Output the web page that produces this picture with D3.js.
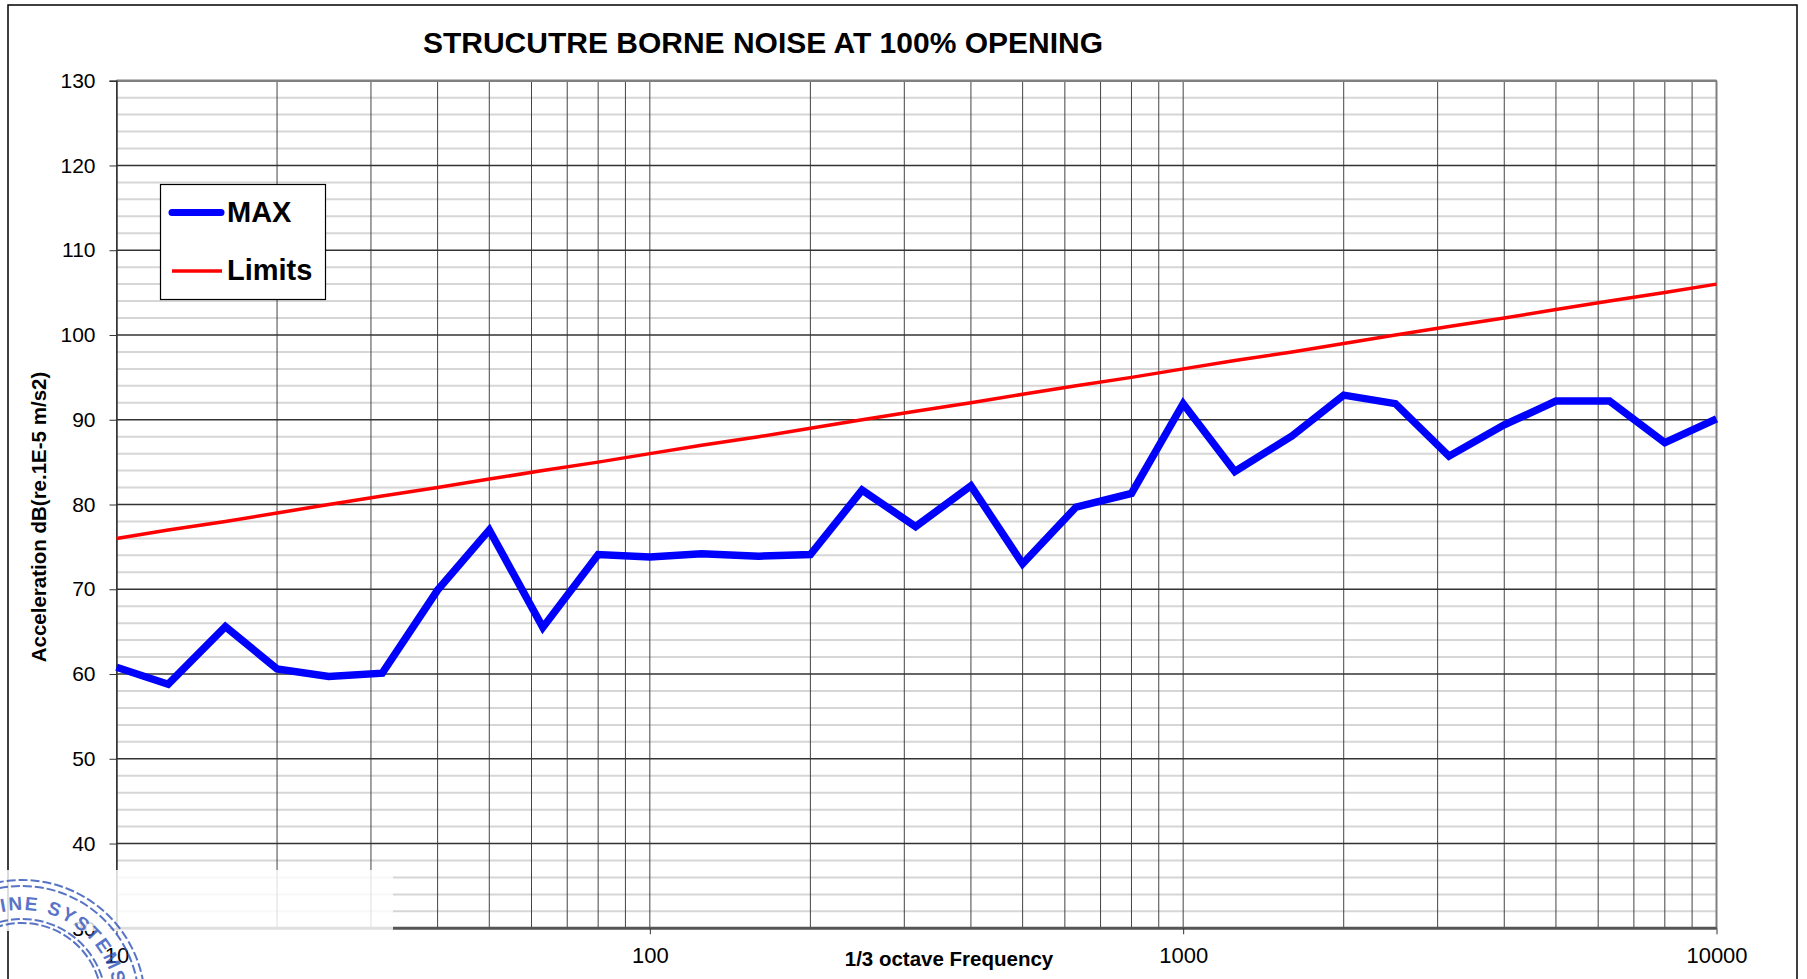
<!DOCTYPE html>
<html>
<head>
<meta charset="utf-8">
<script src="https://cdn.jsdelivr.net/npm/d3@7"></script>
<style>
body { margin:0; background:#fff; overflow:hidden; }
text { font-family: "Liberation Sans", Arial, sans-serif; }
</style>
</head>
<body>
<script>
// 1/3 octave band centre frequencies (Hz)
var freqs = [10,12.5,16,20,25,31.5,40,50,63,80,100,125,160,200,250,315,400,500,630,800,
             1000,1250,1600,2000,2500,3150,4000,5000,6300,8000,10000];
// MAX measured acceleration, dB
var maxValues = [60.8,58.8,65.6,60.6,59.7,60.1,69.9,77.0,65.5,74.1,73.8,74.2,73.9,74.1,81.7,77.4,
                 82.2,73.0,79.7,81.3,91.9,83.9,88.1,92.9,91.9,85.7,89.4,92.2,92.2,87.3,90.1];
// Limits, dB
var limitValues = [76,77,78,79,80,81,82,83,84,85,86,87,88,89,90,91,92,93,94,95,
                   96,97,98,99,100,101,102,103,104,105,106];
var yTicks = [30,40,50,60,70,80,90,100,110,120,130];
var xTickLabels = [10,100,1000,10000];
var seriesNames = ["MAX","Limits"];

var width = 1807;
var height = 979;
var plotLeft = 116.5, plotRight = 1716.5, plotTop = 80.7, plotBottom = 928.3;

var x = d3.scaleLog()
  .domain([10,10000])
  .range([plotLeft,plotRight]);
var y = d3.scaleLinear()
  .domain([30,130])
  .range([plotBottom,plotTop]);

var svg = d3.select("body")
  .append("svg")
  .attr("width",width)
  .attr("height",height);

// outer frame
svg.append("rect")
  .attr("x",8).attr("y",5)
  .attr("width",1789).attr("height",1000)
  .attr("fill","none")
  .attr("stroke","#000")
  .attr("stroke-width",1.5);

// title
svg.append("text")
  .attr("x",763)
  .attr("y",53)
  .attr("text-anchor","middle")
  .attr("font-size",30)
  .attr("font-weight","bold")
  .text("STRUCUTRE BORNE NOISE AT 100% OPENING");

var grid = svg.append("g");

// minor horizontal grid every 2 dB
var minorY = d3.range(32,130,2).filter(function(d){ return d%10!=0; });
grid.selectAll("line.minorY")
  .data(minorY)
  .enter()
  .append("line")
  .attr("x1",plotLeft).attr("x2",plotRight)
  .attr("y1",function(d){ return y(d); })
  .attr("y2",function(d){ return y(d); })
  .attr("stroke","#d6d6d6")
  .attr("stroke-width",2);

// vertical grid (log decades with 2..9)
grid.selectAll("line.vx")
  .data(x.ticks())
  .enter()
  .append("line")
  .attr("x1",function(d){ return x(d); })
  .attr("x2",function(d){ return x(d); })
  .attr("y1",plotTop).attr("y2",plotBottom)
  .attr("stroke","#444")
  .attr("stroke-width",1);

// major horizontal grid
grid.selectAll("line.majorY")
  .data(yTicks)
  .enter()
  .append("line")
  .attr("x1",plotLeft).attr("x2",plotRight)
  .attr("y1",function(d){ return y(d); })
  .attr("y2",function(d){ return y(d); })
  .attr("stroke","#333")
  .attr("stroke-width",1.5);

// plot frame
grid.append("line")
  .attr("x1",plotLeft).attr("x2",plotRight)
  .attr("y1",plotTop).attr("y2",plotTop)
  .attr("stroke","#808080").attr("stroke-width",2.5);
grid.append("line")
  .attr("x1",plotRight).attr("x2",plotRight)
  .attr("y1",plotTop).attr("y2",plotBottom)
  .attr("stroke","#808080").attr("stroke-width",2);
grid.append("line")
  .attr("x1",plotLeft).attr("x2",plotRight)
  .attr("y1",plotBottom).attr("y2",plotBottom)
  .attr("stroke","#555").attr("stroke-width",3);

// axes
var yAxisCall = d3.axisLeft(y)
  .tickValues(yTicks)
  .tickSize(7)
  .tickPadding(14);
var yAxis = svg.append("g")
  .attr("transform","translate("+plotLeft+",0)")
  .call(yAxisCall);
yAxis.select(".domain").attr("stroke","#333").attr("stroke-width",1.5);
yAxis.selectAll(".tick line").attr("stroke","#333");
yAxis.selectAll("text")
  .attr("font-size",21)
  .attr("font-family","Liberation Sans, Arial, sans-serif")
  .attr("fill","#000");

var xAxisCall = d3.axisBottom(x)
  .tickValues(xTickLabels)
  .tickFormat(d3.format("d"))
  .tickSize(6)
  .tickPadding(13);
var xAxis = svg.append("g")
  .attr("transform","translate(0,"+plotBottom+")")
  .call(xAxisCall);
xAxis.select(".domain").remove();
xAxis.selectAll(".tick line").attr("stroke","#333");
xAxis.selectAll("text")
  .attr("font-size",22)
  .attr("font-family","Liberation Sans, Arial, sans-serif")
  .attr("fill","#000");

// axis titles
svg.append("text")
  .attr("transform","translate(46,517) rotate(-90)")
  .attr("text-anchor","middle")
  .attr("font-size",20.5)
  .attr("font-weight","bold")
  .text("Acceleration dB(re.1E-5 m/s2)");
svg.append("text")
  .attr("x",949)
  .attr("y",966)
  .attr("text-anchor","middle")
  .attr("font-size",20.5)
  .attr("font-weight","bold")
  .text("1/3 octave Frequency");

// data lines
var line = d3.line()
  .x(function(d){ return x(d[0]); })
  .y(function(d){ return y(d[1]); });

svg.append("path")
  .datum(freqs.map(function(f,i){ return [f,limitValues[i]]; }))
  .attr("d",line)
  .attr("fill","none")
  .attr("stroke","#ff0000")
  .attr("stroke-width",3.5);

svg.append("path")
  .datum(freqs.map(function(f,i){ return [f,maxValues[i]]; }))
  .attr("d",line)
  .attr("fill","none")
  .attr("stroke","#0000ff")
  .attr("stroke-width",7.5)
  .attr("stroke-linejoin","miter");

// legend
var legend = svg.append("g");
legend.append("rect")
  .attr("x",160.5).attr("y",184.5)
  .attr("width",165).attr("height",115)
  .attr("fill","#fff")
  .attr("stroke","#000")
  .attr("stroke-width",1.2);
legend.append("line")
  .attr("x1",172).attr("x2",221)
  .attr("y1",212.5).attr("y2",212.5)
  .attr("stroke","#0000ff")
  .attr("stroke-width",7)
  .attr("stroke-linecap","round");
legend.append("line")
  .attr("x1",172).attr("x2",222)
  .attr("y1",271).attr("y2",271)
  .attr("stroke","#ff0000")
  .attr("stroke-width",3.5);
legend.selectAll("text.leg")
  .data(seriesNames)
  .enter()
  .append("text")
  .attr("x",227)
  .attr("y",function(d,i){ return 222+i*58; })
  .attr("font-size",29)
  .attr("font-weight","bold")
  .text(function(d){ return d; });

// washed-out corner and stamp
svg.append("rect")
  .attr("x",0).attr("y",870)
  .attr("width",393).attr("height",61)
  .attr("fill","#fff")
  .attr("opacity",0.82);

var stampColor = "#2f52b8";
var stamp = svg.append("g")
  .attr("transform","translate(22,1003)")
  .attr("fill","none")
  .attr("stroke",stampColor)
  .attr("opacity",0.8);
[123,117,84,80].forEach(function(r){
  stamp.append("circle")
    .attr("r",r)
    .attr("stroke-width",2)
    .attr("stroke-dasharray","9 3");
});
var arcR = 93;
stamp.append("path")
  .attr("id","stampArc")
  .attr("d","M "+(-arcR)+" 0 A "+arcR+" "+arcR+" 0 0 1 "+arcR+" 0")
  .attr("stroke","none");
stamp.append("text")
  .attr("fill",stampColor)
  .attr("stroke","none")
  .attr("font-size",19)
  .attr("font-weight","bold")
  .attr("letter-spacing",2)
  .append("textPath")
  .attr("href","#stampArc")
  .attr("startOffset",76)
  .text("MARINE SYSTEMS");
</script>
</body>
</html>
